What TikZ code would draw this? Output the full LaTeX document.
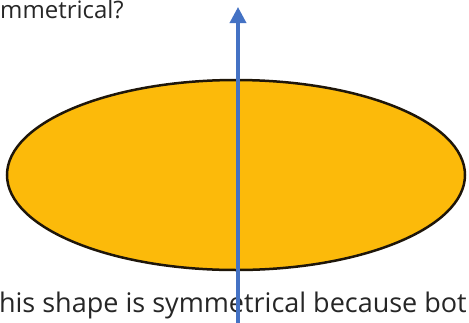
\documentclass[tikz,border=0pt]{standalone}
\usepackage{fontspec}
\newfontfamily\capfont{Open Sans}
\usetikzlibrary{arrows.meta,shapes.geometric}
\definecolor{ShapeClr}{RGB}{252,186,10}
\definecolor{AxisClr}{RGB}{68,114,196}
\definecolor{EdgeClr}{RGB}{30,22,10}

\begin{document}
\begin{tikzpicture}[x=1pt,y=-1pt]
\tikzset{caption/.style={font=\capfont\fontsize{27}{32}\selectfont,inner sep=0pt,text=black!85}}
\useasboundingbox (0,0) rectangle (469,322);
\clip (0,0) rectangle (469,322);

\node[caption,font=\capfont\fontsize{24}{28}\selectfont,anchor=base west] (question) at (0,18) {mmetrical?};

\node[ellipse,draw=EdgeClr,line width=2.5pt,fill=ShapeClr,
  minimum width=458pt,minimum height=190pt,inner sep=0pt] (shape) at (236,175) {};

\node[caption,anchor=base east] (answer) at (467,312) {his shape is symmetrical because bot};

\coordinate (foot) at (238,330);
\coordinate (tip) at (238,7);
\draw[AxisClr,line width=3.5pt,-{Triangle[length=16pt,width=16pt]}] (foot) -- (tip);

\end{tikzpicture}
\end{document}
